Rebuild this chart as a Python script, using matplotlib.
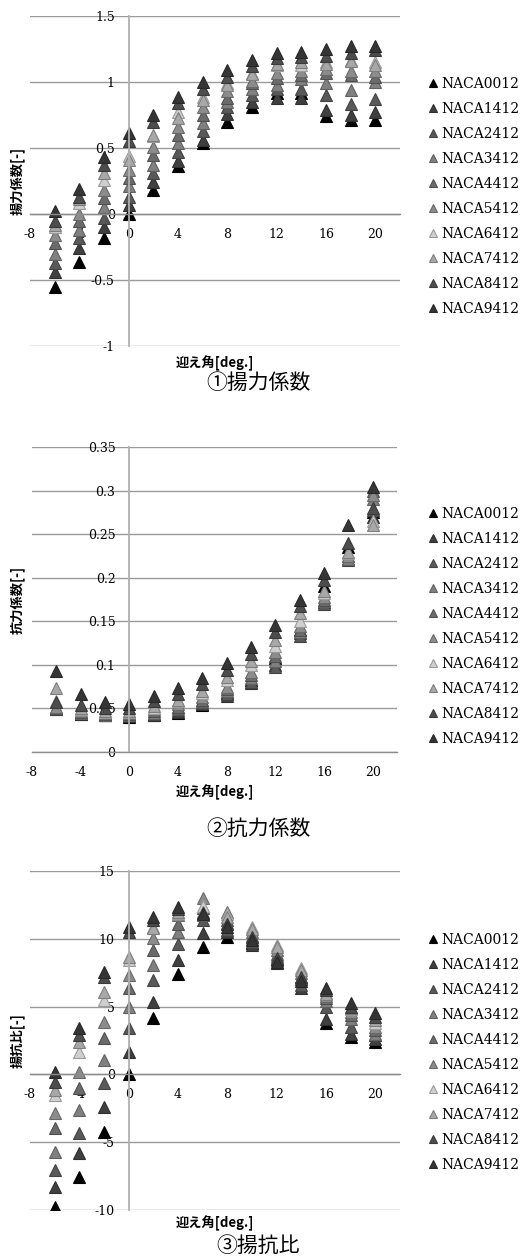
import matplotlib
matplotlib.use("Agg")
import matplotlib.pyplot as plt

plt.rcParams["font.family"] = "serif"
plt.rcParams["font.serif"] = ["DejaVu Serif"]

# angle of attack [deg]
angle = [-6, -4, -2, 0, 2, 4, 6, 8, 10, 12, 14, 16, 18, 20]

names = ["NACA0012", "NACA1412", "NACA2412", "NACA3412", "NACA4412",
         "NACA5412", "NACA6412", "NACA7412", "NACA8412", "NACA9412"]
colors = ["#000000", "#3f3f3f", "#595959", "#808080", "#6b6b6b",
          "#8c8c8c", "#cfcfcf", "#a8a8a8", "#4d4d4d", "#353535"]

# lift coefficient
cl_0012 = [-0.55, -0.36, -0.18, 0.00, 0.18, 0.36, 0.54, 0.70, 0.81, 0.92, 0.92, 0.74, 0.71, 0.71]
cl_1412 = [-0.44, -0.26, -0.10, 0.07, 0.245, 0.40, 0.56, 0.76, 0.85, 0.88, 0.88, 0.79, 0.75, 0.77]
cl_2412 = [-0.37, -0.18, -0.03, 0.13, 0.31, 0.47, 0.63, 0.81, 0.90, 0.95, 0.95, 0.90, 0.83, 0.87]
cl_3412 = [-0.30, -0.12, 0.05, 0.21, 0.37, 0.54, 0.69, 0.85, 0.95, 0.98, 1.02, 0.99, 0.94, 1.00]
cl_4412 = [-0.22, -0.05, 0.12, 0.27, 0.45, 0.60, 0.75, 0.88, 0.99, 1.03, 1.05, 1.07, 1.05, 1.04]
cl_5412 = [-0.16, 0.00, 0.18, 0.33, 0.51, 0.66, 0.81, 0.93, 1.01, 1.07, 1.08, 1.10, 1.08, 1.08]
cl_6412 = [-0.10, 0.08, 0.26, 0.44, 0.59, 0.77, 0.89, 0.99, 1.07, 1.13, 1.13, 1.15, 1.17, 1.15]
cl_7412 = [-0.08, 0.11, 0.31, 0.41, 0.60, 0.73, 0.86, 0.98, 1.06, 1.14, 1.15, 1.14, 1.16, 1.13]
cl_8412 = [-0.05, 0.13, 0.37, 0.55, 0.70, 0.84, 0.95, 1.04, 1.12, 1.18, 1.19, 1.20, 1.22, 1.24]
cl_9412 = [0.02, 0.19, 0.43, 0.61, 0.75, 0.89, 1.00, 1.09, 1.17, 1.22, 1.23, 1.25, 1.27, 1.27]

# drag coefficient
cd_0012 = [0.050, 0.044, 0.042, 0.040, 0.042, 0.045, 0.054, 0.068, 0.083, 0.108, 0.140, 0.190, 0.235, 0.275]
cd_1412 = [0.049, 0.044, 0.042, 0.041, 0.043, 0.046, 0.055, 0.064, 0.079, 0.100, 0.136, 0.172, 0.222, 0.270]
cd_2412 = [0.049, 0.045, 0.043, 0.042, 0.044, 0.048, 0.056, 0.066, 0.080, 0.097, 0.133, 0.170, 0.220, 0.278]
cd_3412 = [0.050, 0.045, 0.043, 0.043, 0.045, 0.050, 0.058, 0.070, 0.085, 0.105, 0.138, 0.173, 0.222, 0.290]
cd_4412 = [0.051, 0.046, 0.044, 0.044, 0.047, 0.052, 0.060, 0.072, 0.088, 0.110, 0.140, 0.175, 0.225, 0.300]
cd_5412 = [0.052, 0.047, 0.045, 0.045, 0.049, 0.055, 0.063, 0.075, 0.092, 0.115, 0.145, 0.178, 0.225, 0.295]
cd_6412 = [0.058, 0.049, 0.046, 0.046, 0.051, 0.058, 0.068, 0.083, 0.100, 0.122, 0.150, 0.182, 0.228, 0.265]
cd_7412 = [0.073, 0.050, 0.047, 0.047, 0.053, 0.060, 0.070, 0.086, 0.104, 0.128, 0.160, 0.185, 0.230, 0.260]
cd_8412 = [0.057, 0.054, 0.050, 0.050, 0.058, 0.066, 0.078, 0.094, 0.112, 0.138, 0.167, 0.197, 0.240, 0.280]
cd_9412 = [0.093, 0.067, 0.057, 0.055, 0.064, 0.073, 0.085, 0.102, 0.121, 0.146, 0.174, 0.205, 0.260, 0.304]

# lift-drag ratio
ld_0012 = [-9.75, -7.54, -4.23, 0.0, 4.13, 7.42, 9.4, 10.16, 9.7, 8.5, 7.0, 3.8, 2.75, 2.4]
ld_1412 = [-8.3, -5.8, -2.38, 1.67, 5.37, 8.4, 10.4, 10.5, 9.55, 8.2, 6.4, 4.1, 3.0, 2.6]
ld_2412 = [-7.05, -4.32, -0.66, 3.4, 6.97, 9.64, 11.38, 10.65, 9.8, 8.4, 6.6, 5.0, 3.5, 2.9]
ld_3412 = [-5.7, -2.63, 1.06, 5.0, 8.07, 10.5, 11.75, 11.14, 10.0, 8.7, 7.0, 5.4, 4.1, 3.0]
ld_4412 = [-3.96, -1.0, 2.66, 6.35, 9.17, 11.1, 12.25, 11.4, 10.2, 8.9, 7.2, 5.6, 4.4, 3.3]
ld_5412 = [-2.85, 0.2, 3.89, 7.33, 10.05, 11.75, 13.0, 12.0, 10.5, 9.2, 7.5, 5.8, 4.63, 3.5]
ld_6412 = [-1.5, 1.67, 5.49, 8.43, 10.9, 11.9, 12.4, 11.8, 10.9, 9.55, 7.85, 6.0, 4.8, 3.8]
ld_7412 = [-1.15, 2.4, 6.1, 8.68, 10.8, 12.0, 12.0, 11.63, 10.7, 9.4, 7.7, 5.9, 4.9, 4.0]
ld_8412 = [-0.54, 2.9, 7.2, 10.5, 11.4, 12.2, 11.9, 11.1, 10.1, 8.6, 7.2, 6.2, 5.0, 4.2]
ld_9412 = [0.2, 3.42, 7.57, 10.9, 11.6, 12.37, 11.8, 10.9, 9.9, 8.3, 6.9, 6.37, 5.3, 4.5]

cl_all = [cl_0012, cl_1412, cl_2412, cl_3412, cl_4412, cl_5412, cl_6412, cl_7412, cl_8412, cl_9412]
cd_all = [cd_0012, cd_1412, cd_2412, cd_3412, cd_4412, cd_5412, cd_6412, cd_7412, cd_8412, cd_9412]
ld_all = [ld_0012, ld_1412, ld_2412, ld_3412, ld_4412, ld_5412, ld_6412, ld_7412, ld_8412, ld_9412]

xticks = [-8, -4, 0, 4, 8, 12, 16, 20]
cl_ticks = [-1, -0.5, 0, 0.5, 1, 1.5]
cd_ticks = [0, 0.05, 0.1, 0.15, 0.2, 0.25, 0.3, 0.35]
ld_ticks = [-10, -5, 0, 5, 10, 15]

JP = ["Noto Sans CJK JP", "DejaVu Sans"]
W, H = 528, 1259


def darker(c, f=0.75):
    r, g, b = matplotlib.colors.to_rgb(c)
    return (r * f, g * f, b * f)


def panel(fig, rect, data, yticks, ylim, ylabel, xlabel_y, title, title_y, leg_top):
    ax = fig.add_axes(rect)
    for vals, name, col in zip(data, names, colors):
        ax.plot(angle, vals, ls="none", marker="^", ms=8, mfc=col,
                mec=darker(col), mew=0.8, label=name)
    ax.set_xlim(-8, 22)
    ax.set_ylim(*ylim)
    ax.set_xticks(xticks)
    ax.set_xticklabels([str(t) for t in xticks])
    ax.set_yticks(yticks)
    ax.set_yticklabels(["%g" % t for t in yticks])
    ax.tick_params(length=0, labelsize=9)
    ax.tick_params(axis="y", pad=10)
    ax.tick_params(axis="x", pad=10)
    for s in ["top", "right"]:
        ax.spines[s].set_visible(False)
    ax.spines["left"].set_position(("data", 0))
    ax.spines["left"].set_color("#b0b0b0")
    ax.spines["left"].set_linewidth(1.3)
    ax.spines["bottom"].set_position(("data", 0))
    ax.spines["bottom"].set_color("#8c8c8c")
    ax.spines["bottom"].set_linewidth(1.0)
    ax.yaxis.grid(True, color="#9a9a9a", lw=1.0)
    ax.set_axisbelow(True)

    yc = rect[1] + rect[3] / 2
    fig.text(17 / W, yc, ylabel, rotation=90, ha="center",
             va="center", fontfamily=JP, fontsize=9.5, fontweight="bold")
    fig.text(215 / W, 1 - xlabel_y / H, "迎え角[deg.]", ha="center", va="center",
             fontfamily=JP, fontsize=9.5, fontweight="bold")
    fig.text(258 / W, 1 - title_y / H, title, ha="center", va="center",
             fontfamily=JP, fontsize=15)

    handles, labels = ax.get_legend_handles_labels()
    fig.legend(handles, labels, loc="upper left",
               bbox_to_anchor=(429 / W, 1 - leg_top / H),
               frameon=False, prop={"size": 10},
               markerscale=0.7, handlelength=0.6, handletextpad=0.3,
               labelspacing=0.79, borderpad=0, borderaxespad=0)
    return ax


fig = plt.figure(figsize=(W / 100, H / 100), dpi=100)
fig.patch.set_facecolor("white")

x0, xw = 30 / W, 370 / W

# ① lift coefficient
r1 = [x0, 1 - 346 / H, xw, 330 / H]
panel(fig, r1, cl_all, cl_ticks, (-1, 1.5), "揚力係数[-]", 363, "①揚力係数", 383, 77)

# ② drag coefficient
r2 = [32 / W, 1 - 752 / H, 365 / W, 305 / H]
panel(fig, r2, cd_all, cd_ticks, (0, 0.35), "抗力係数[-]", 792, "②抗力係数", 829, 507)

# ③ lift-drag ratio
r3 = [x0, 1 - 1210 / H, xw, 339 / H]
panel(fig, r3, ld_all, ld_ticks, (-10, 15), "揚抗比[-]", 1223, "③揚抗比", 1246, 933)

fig.savefig("out.png", dpi=100, facecolor="white")
